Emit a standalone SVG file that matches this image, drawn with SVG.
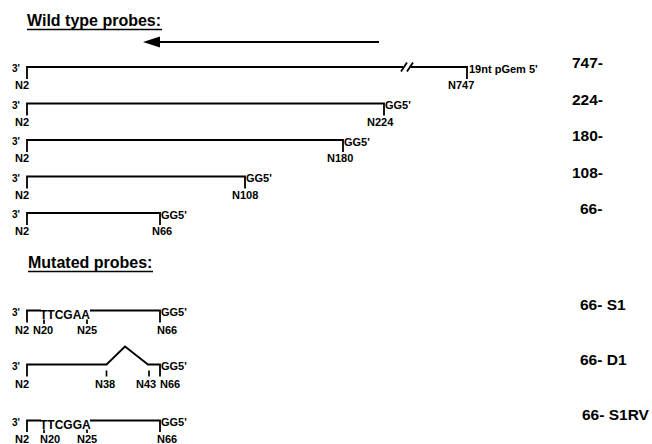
<svg xmlns="http://www.w3.org/2000/svg" width="652" height="444" viewBox="0 0 652 444">
  <style>
    text { font-family: "Liberation Sans", Arial, sans-serif; font-weight: bold; fill: #000; }
    .title { font-size: 16px; }
    .end { font-size: 10px; }
    .lbl { font-size: 11px; }
    .seq { font-size: 11px; }
    .mut { font-size: 12px; }
    .size { font-size: 15.5px; }
    .strand { fill: none; stroke: #000; stroke-width: 1.8; }
    .tick { fill: none; stroke: #000; stroke-width: 1.7; }
    .rule { stroke: #000; stroke-width: 1.3; }
  </style>

  <!-- headings -->
  <g id="title-wild">
    <text class="title" x="27" y="26">Wild type probes:</text>
    <line class="rule" x1="27" y1="29.5" x2="162" y2="29.5"/>
  </g>
  <g id="title-mutated">
    <text class="title" x="28" y="268">Mutated probes:</text>
    <line class="rule" x1="28" y1="271.5" x2="153" y2="271.5"/>
  </g>

  <!-- direction of transcription -->
  <g id="direction">
    <line x1="156" y1="42" x2="379" y2="42" stroke="#000" stroke-width="2"/>
    <polygon points="143,42 160,36.5 160,47.5" fill="#000"/>
  </g>

  <!-- wild type probes -->
  <g id="probe-747">
    <text class="end" x="12" y="72">3'</text>
    <path class="strand" d="M27 79 V67 H403 M411 67 H467 V79"/>
    <path class="strand" d="M401 71.5 L407 62.5 M407 71.5 L413 62.5"/>
    <text class="seq" x="469" y="73">19nt pGem 5'</text>
    <text class="lbl" x="15" y="89">N2</text>
    <text class="lbl" x="448" y="89">N747</text>
    <text class="size" x="603" y="68" text-anchor="end">747-</text>
  </g>

  <g id="probe-224">
    <text class="end" x="12" y="108.5">3'</text>
    <path class="strand" d="M27 115.5 V103.5 H384 V115.5"/>
    <text class="seq" x="385" y="109">GG5'</text>
    <text class="lbl" x="15" y="125.5">N2</text>
    <text class="lbl" x="367" y="125.5">N224</text>
    <text class="size" x="603" y="104.5" text-anchor="end">224-</text>
  </g>

  <g id="probe-180">
    <text class="end" x="12" y="145">3'</text>
    <path class="strand" d="M27 152 V140 H343 V152"/>
    <text class="seq" x="344" y="145.5">GG5'</text>
    <text class="lbl" x="15" y="162">N2</text>
    <text class="lbl" x="327" y="162">N180</text>
    <text class="size" x="603" y="141" text-anchor="end">180-</text>
  </g>

  <g id="probe-108">
    <text class="end" x="12" y="181.5">3'</text>
    <path class="strand" d="M27 188.5 V176.5 H245 V188.5"/>
    <text class="seq" x="246" y="182">GG5'</text>
    <text class="lbl" x="15" y="198.5">N2</text>
    <text class="lbl" x="232" y="198.5">N108</text>
    <text class="size" x="603" y="177.5" text-anchor="end">108-</text>
  </g>

  <g id="probe-66">
    <text class="end" x="12" y="218">3'</text>
    <path class="strand" d="M27 225 V213 H160 V225"/>
    <text class="seq" x="161" y="218.5">GG5'</text>
    <text class="lbl" x="15" y="235">N2</text>
    <text class="lbl" x="152" y="235">N66</text>
    <text class="size" x="580" y="214">66-</text>
  </g>

  <!-- mutated probes -->
  <g id="probe-66-S1">
    <text class="end" x="12" y="315.5">3'</text>
    <path class="strand" d="M27 322.5 V310.5 H41 M90 310.5 H160 V322.5"/>
    <text class="mut" x="40" y="319">TTCGAA</text>
    <path class="tick" d="M44 319.5 V324 M87 319.5 V324"/>
    <text class="seq" x="161" y="316">GG5'</text>
    <text class="lbl" x="15" y="334">N2</text>
    <text class="lbl" x="33" y="334">N20</text>
    <text class="lbl" x="77" y="334">N25</text>
    <text class="lbl" x="157" y="334">N66</text>
    <text class="size" x="580" y="310">66- S1</text>
  </g>

  <g id="probe-66-D1">
    <text class="end" x="12" y="369.5">3'</text>
    <path class="strand" d="M27 376.5 V364.5 H106.5 L125 346.5 L148 364.5 H160 V376.5"/>
    <path class="tick" d="M106.5 370.5 V376.5 M149 370.5 V376.5"/>
    <text class="seq" x="161" y="370">GG5'</text>
    <text class="lbl" x="15" y="387.5">N2</text>
    <text class="lbl" x="95" y="387.5">N38</text>
    <text class="lbl" x="136" y="387.5">N43</text>
    <text class="lbl" x="160" y="387.5">N66</text>
    <text class="size" x="580" y="365">66- D1</text>
  </g>

  <g id="probe-66-S1RV">
    <text class="end" x="12" y="425.5">3'</text>
    <path class="strand" d="M27 432 V420.5 H41 M90 420.5 H160 V432"/>
    <text class="mut" x="40" y="429">TTCGGA</text>
    <path class="tick" d="M44 429.5 V433 M87 429.5 V433"/>
    <text class="seq" x="161" y="426">GG5'</text>
    <text class="lbl" x="15" y="443">N2</text>
    <text class="lbl" x="40" y="443">N20</text>
    <text class="lbl" x="77" y="443">N25</text>
    <text class="lbl" x="157" y="443">N66</text>
    <text class="size" x="582" y="420">66- S1RV</text>
  </g>
</svg>
